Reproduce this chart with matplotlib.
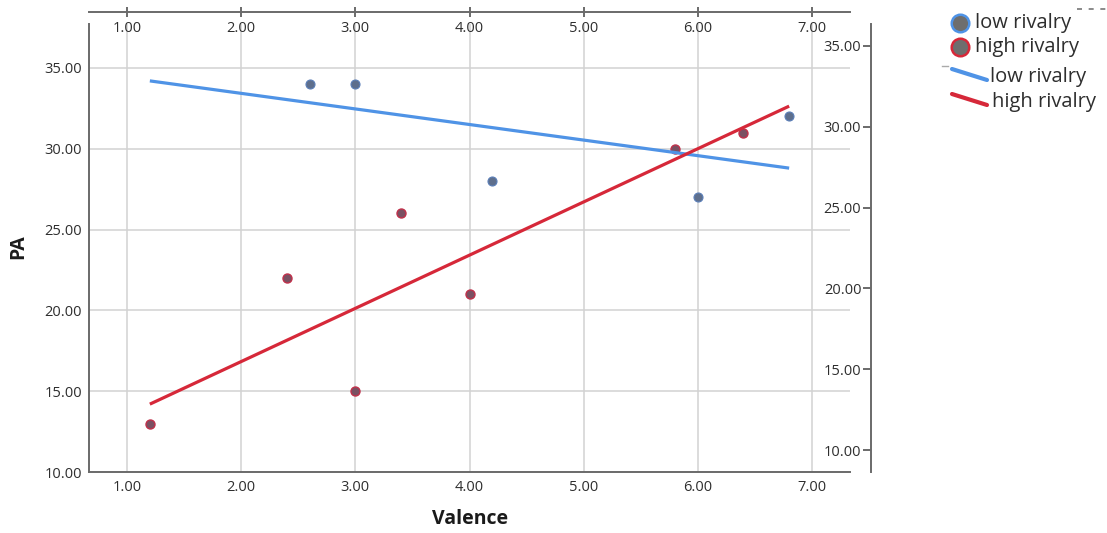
"""==============================================================
# Libraries
=============================================================="""
import matplotlib.pyplot as plt
import numpy as np

"""==============================================================
# Data
=============================================================="""
# low rivalry group (Valence, PA)
low_valence = [2.6, 3.0, 4.2, 6.0, 6.8]
low_pa = [34, 34, 28, 27, 32]

# high rivalry group (Valence, PA)
high_valence = [1.2, 2.4, 3.0, 3.4, 4.0, 5.8, 6.4]
high_pa = [13, 22, 15, 26, 21, 30, 31]

# tick values
x_ticks = [1, 2, 3, 4, 5, 6, 7]
y_ticks = [10, 15, 20, 25, 30, 35]

group_names = ["low rivalry", "high rivalry"]

"""==============================================================
# Style settings
=============================================================="""
plt.rcParams["font.family"] = ["Open Sans", "DejaVu Sans"]

W, H = 1107, 533
LOW_COLOR = "#4f93e6"
HIGH_COLOR = "#d62839"
SPINE_COLOR = "#6a6a6a"
GRID_COLOR = "#d2d2d2"
TEXT_COLOR = "#2e2e2e"
TICK_SIZE = 10.5


def box(x0, y0, x1, y1):
    """pixel box (top-left origin) -> figure fraction rect"""
    return [x0 / W, 1 - y1 / H, (x1 - x0) / W, (y1 - y0) / H]


fig = plt.figure(figsize=(W / 100, H / 100), dpi=100)

"""==============================================================
# Main scatter axes
=============================================================="""
ax = fig.add_axes(box(89, 24, 850, 472))
x_lim = (0.667, 7.333)
ax.set_xlim(x_lim)
ax.set_ylim(10, 37.72)

ax.set_xticks(x_ticks)
ax.set_yticks(y_ticks)
ax.set_xticklabels([f"{v:.2f}" for v in x_ticks])
ax.set_yticklabels([f"{v:.2f}" for v in y_ticks])
ax.tick_params(axis="x", length=0, pad=6, labelsize=TICK_SIZE,
               labelcolor=TEXT_COLOR)
ax.tick_params(axis="y", length=0, pad=5, labelsize=TICK_SIZE,
               labelcolor=TEXT_COLOR)
ax.grid(True, color=GRID_COLOR, linewidth=1.1)
ax.set_axisbelow(True)

for side in ["top", "right"]:
    ax.spines[side].set_visible(False)
for side in ["left", "bottom"]:
    ax.spines[side].set_color(SPINE_COLOR)
    ax.spines[side].set_linewidth(1.4)

# points
ax.scatter(low_valence, low_pa, s=42, facecolor="#5e6f8d",
           edgecolor="#5b7fb8", linewidth=0.8, zorder=3)
ax.scatter(high_valence, high_pa, s=42, facecolor="#7a5062",
           edgecolor="#c0304a", linewidth=1.0, zorder=3)

# linear fit lines over full Valence range
all_valence = low_valence + high_valence
fit_x = np.array([min(all_valence), max(all_valence)])
low_coef = np.polyfit(low_valence, low_pa, 1)
high_coef = np.polyfit(high_valence, high_pa, 1)
ax.plot(fit_x, np.polyval(low_coef, fit_x), color=LOW_COLOR,
        linewidth=2.3, solid_capstyle="butt", zorder=4)
ax.plot(fit_x, np.polyval(high_coef, fit_x), color=HIGH_COLOR,
        linewidth=2.3, solid_capstyle="butt", zorder=4)

"""==============================================================
# Extra top x axis and right y axis
=============================================================="""
ax_top = fig.add_axes(box(89, 12, 850, 12))
ax_top.set_xlim(x_lim)
ax_top.set_xticks(x_ticks)
ax_top.set_xticklabels([f"{v:.2f}" for v in x_ticks])
ax_top.set_yticks([])
ax_top.patch.set_visible(False)
for side in ["top", "left", "right"]:
    ax_top.spines[side].set_visible(False)
ax_top.spines["bottom"].set_color(SPINE_COLOR)
ax_top.spines["bottom"].set_linewidth(1.4)
ax_top.tick_params(axis="x", direction="inout", length=6.5, width=1.4,
                   color=SPINE_COLOR, pad=3.5, labelsize=TICK_SIZE,
                   labelcolor=TEXT_COLOR)

ax_r = fig.add_axes(box(871, 24, 871, 472))
ax_r.set_ylim(8.64, 36.36)
ax_r.set_yticks(y_ticks)
ax_r.set_yticklabels([f"{v:.2f}" for v in y_ticks])
ax_r.set_xticks([])
ax_r.patch.set_visible(False)
for side in ["top", "bottom", "right"]:
    ax_r.spines[side].set_visible(False)
ax_r.spines["left"].set_color(SPINE_COLOR)
ax_r.spines["left"].set_linewidth(1.4)
ax_r.tick_params(axis="y", direction="out", length=6, width=1.4,
                 color=SPINE_COLOR, pad=1, labelsize=TICK_SIZE,
                 labelcolor=TEXT_COLOR)

"""==============================================================
# Axis titles
=============================================================="""
fig.text(470 / W, 1 - 519 / H, "Valence", ha="center", va="center",
         fontsize=14, fontweight="bold", color="#1a1a1a")
fig.text(18 / W, 1 - 247 / H, "PA", ha="center", va="center",
         rotation=90, fontsize=14, fontweight="bold", color="#1a1a1a")

"""==============================================================
# Legend (drawn on an overlay in pixel units)
=============================================================="""
leg = fig.add_axes([0, 0, 1, 1])
leg.set_xlim(0, W)
leg.set_ylim(H, 0)
leg.axis("off")

marker_edges = [LOW_COLOR, HIGH_COLOR]
for i, name in enumerate(group_names):
    y = 23 + 24 * i
    leg.scatter([960], [y], s=160, facecolor="#6e6e6e",
                edgecolor=marker_edges[i], linewidth=1.8)
    leg.text(975, y, name, ha="left", va="center", fontsize=14.5,
             color=TEXT_COLOR)

for i, name in enumerate(group_names):
    y = 69 + 25 * i
    leg.plot([952, 987], [y, y + 11], color=marker_edges[i], linewidth=3,
             solid_capstyle="round")
    leg.text(990 + 2 * i, y + 8, name, ha="left", va="center",
             fontsize=14.5, color=TEXT_COLOR)

leg.plot([942, 948], [66, 66], color="#aaaaaa", linewidth=1)
leg.plot([1077, 1107], [9, 9], color="#777777", linewidth=1.2,
         linestyle=(0, (3, 4)))

fig.savefig("out.png", dpi=100)
